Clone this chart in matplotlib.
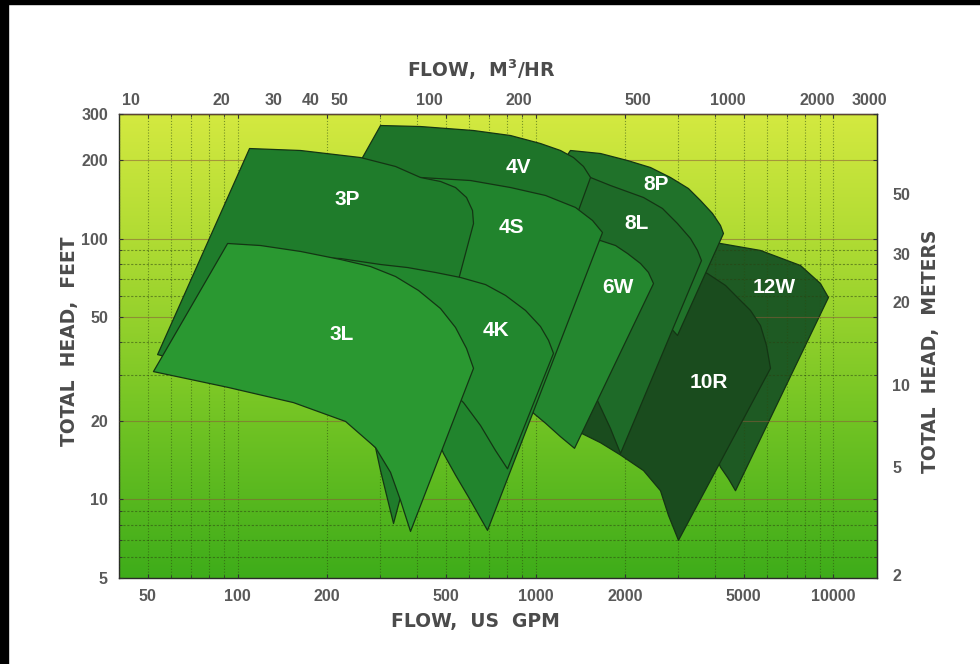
import numpy as np
import matplotlib
matplotlib.use("Agg")
import matplotlib.pyplot as plt
from matplotlib.patches import Polygon, Rectangle
from matplotlib.ticker import FixedLocator, NullLocator, NullFormatter, FuncFormatter

plt.rcParams['mathtext.default'] = 'regular'

# ---------------- data: pump coverage envelopes (flow US GPM, head feet) ----------------
flow_12W = [3720, 4176, 5689, 7750, 9045, 9621, 4690, 4443, 4176, 3579, 3443]
head_12W = [100.0, 95.7, 90.0, 78.8, 67.2, 59.4, 10.8, 12.0, 13.3, 20.1, 63.2]

flow_10R = [3312, 3778, 4341, 4764, 5266, 5689, 5960, 6147, 3019, 2795, 2627, 2304, 1929, 1652, 1362, 1261, 1652, 2627]
head_10R = [78.8, 73.4, 66.1, 59.4, 53.0, 46.4, 38.9, 31.8, 6.97, 8.68, 10.8, 12.9, 14.8, 16.5, 18.4, 23.9, 48.5, 69.0]

flow_8P = [1310, 1652, 2036, 2431, 2838, 3261, 3579, 3926, 4176, 4274, 2996, 2795, 2251, 1652, 1213]
head_8P = [217.4, 211.7, 199.0, 187.1, 171.3, 155.4, 139.8, 124.7, 112.2, 104.5, 42.5, 46.4, 63.2, 98.2, 190.5]

flow_8L = [1362, 1530, 1785, 2304, 2668, 2996, 3312, 3497, 3606, 1929, 1785, 1615, 1530, 1213, 1310]
head_8L = [179.0, 171.3, 159.6, 143.6, 130.3, 114.1, 100.0, 90.0, 82.3, 15.0, 18.7, 23.9, 28.6, 57.9, 139.8]

flow_6W = [1213, 1652, 1856, 2036, 2251, 2394, 2489, 1352, 1213, 1080, 985, 891, 1213]
head_6W = [94.0, 98.2, 94.0, 87.6, 80.2, 74.1, 67.2, 15.7, 17.4, 19.6, 21.4, 28.6, 82.3]

flow_4V = [301.9, 411.3, 619.3, 824.4, 1039, 1213, 1341, 1449, 1530, 1394, 1080, 518.5, 239.4, 262.7]
head_4V = [271.0, 268.6, 259.3, 248.1, 231.2, 217.4, 204.3, 188.8, 171.3, 128.0, 48.5, 48.5, 166.8, 204.3]

flow_4S = [352.4, 411.3, 605.1, 824.4, 1080, 1362, 1554, 1678, 690.1, 605.1, 538.9, 491.2, 411.3, 352.4]
head_4S = [139.8, 171.3, 166.8, 156.8, 146.2, 131.5, 117.2, 105.4, 7.61, 9.91, 12.4, 15.0, 23.9, 90.0]

flow_3P = [53.9, 109.7, 162.7, 258.7, 339.0, 411.3, 479.9, 538.9, 586.7, 614.6, 619.3, 333.8, 316.2, 301.9, 290.5, 221.6, 150.6, 75.1]
head_3P = [35.9, 221.2, 217.4, 204.3, 188.8, 171.3, 165.4, 156.8, 143.6, 128.0, 114.1, 8.09, 10.4, 12.9, 15.8, 21.9, 25.7, 32.6]

flow_4K = [162.7, 221.6, 301.9, 372.0, 461.7, 560.1, 679.6, 793.2, 925.7, 1039, 1106, 1149, 805.4, 734.0, 653.8, 573.3, 479.9, 352.4, 189.9]
head_4K = [85.3, 83.8, 79.5, 77.4, 74.1, 70.9, 66.6, 60.5, 53.0, 46.0, 40.7, 36.3, 13.1, 15.4, 19.2, 23.5, 28.6, 34.1, 48.5]

flow_3L = [52.2, 92.6, 119.4, 162.7, 221.6, 279.4, 339.0, 405.0, 479.9, 538.9, 586.7, 619.3, 380.6, 352.4, 326.1, 290.5, 230.4, 154.1, 92.6]
head_3L = [30.9, 95.7, 94.0, 89.2, 83.1, 78.1, 71.5, 63.2, 53.9, 45.6, 37.9, 31.8, 7.54, 9.91, 12.7, 15.8, 19.9, 23.5, 26.9]

# region labels
label_text = ['3P', '3L', '4V', '4S', '4K', '8P', '8L', '6W', '12W', '10R']
label_flow = [234, 223, 877, 831, 734, 2547, 2182, 1884, 6340, 3807]
label_head = [141, 42.9, 187, 110, 44.4, 161, 114, 64.9, 64.9, 28.1]

# axis ticks
gpm_ticks = [50, 100, 200, 500, 1000, 2000, 5000, 10000]
feet_ticks = [5, 10, 20, 50, 100, 200, 300]
m3h_ticks = [10, 20, 30, 40, 50, 100, 200, 500, 1000, 2000, 3000]
meter_ticks = [2, 5, 10, 20, 30, 50]

# ---------------- styling ----------------
shapes = [
    (flow_12W, head_12W, '#1e5a23'),
    (flow_10R, head_10R, '#1a4c1e'),
    (flow_8P, head_8P, '#20722a'),
    (flow_8L, head_8L, '#1e6a28'),
    (flow_6W, head_6W, '#24872f'),
    (flow_4V, head_4V, '#1e7429'),
    (flow_4S, head_4S, '#21842d'),
    (flow_3P, head_3P, '#1f7c2b'),
    (flow_4K, head_4K, '#22872e'),
    (flow_3L, head_3L, '#2a9831'),
]

W, H = 980, 664
fig = plt.figure(figsize=(W / 100, H / 100), dpi=100)
fig.patch.set_facecolor('white')
ax = fig.add_axes([119 / W, 1 - 578 / H, (877 - 119) / W, (578 - 114) / H])

# background gradient
ny = 256
tt = np.linspace(0, 1, ny)
stops_t = [0.0, 0.3, 0.62, 1.0]
stops_c = np.array([[212, 233, 64], [172, 218, 50], [120, 198, 37], [62, 172, 26]]) / 255.0
col = np.stack([np.interp(tt, stops_t, stops_c[:, k]) for k in range(3)], axis=-1)
img = np.repeat(col[:, None, :], 2, axis=1)
ax.imshow(img, extent=[0, 1, 0, 1], transform=ax.transAxes, aspect='auto',
          zorder=0, interpolation='bilinear')

ax.set_xscale('log')
ax.set_yscale('log')

for i, (fx, hy, c) in enumerate(shapes):
    poly = Polygon(np.column_stack([fx, hy]), closed=True, facecolor=c,
                   edgecolor='#143514', linewidth=0.9, zorder=2 + i, joinstyle='round')
    ax.add_patch(poly)

ax.set_xlim(40, 14000)
ax.set_ylim(5, 300)

# grid
ax.xaxis.set_major_locator(FixedLocator(gpm_ticks))
ax.xaxis.set_minor_locator(FixedLocator([v * 10 ** d for d in range(1, 5) for v in range(1, 10)]))
ax.yaxis.set_major_locator(FixedLocator(feet_ticks))
ax.yaxis.set_minor_locator(FixedLocator([v * 10 ** d for d in range(0, 3) for v in range(1, 10)]))
ax.xaxis.set_major_formatter(FuncFormatter(lambda v, p: f'{v:g}'))
ax.yaxis.set_major_formatter(FuncFormatter(lambda v, p: f'{v:g}'))
ax.xaxis.set_minor_formatter(NullFormatter())
ax.yaxis.set_minor_formatter(NullFormatter())

ax.grid(which='both', axis='x', color='#2b4a10', linestyle=(0, (1, 1.6)), linewidth=0.8, alpha=0.55, zorder=20)
ax.grid(which='major', axis='y', color='#8a5a3a', linestyle='-', linewidth=0.8, alpha=0.55, zorder=20)
ax.grid(which='minor', axis='y', color='#2b4010', linestyle=(0, (2, 1.5)), linewidth=0.8, alpha=0.5, zorder=20)
ax.set_axisbelow(False)

tick_font = dict(family=['Liberation Sans', 'DejaVu Sans'], weight='bold', size=11.5)
tick_color = '#595959'
ax.tick_params(which='both', direction='in', top=True, right=True, color='#333333')
ax.tick_params(which='major', length=3, width=0.8)
ax.tick_params(which='minor', length=2, width=0.6)
ax.tick_params(axis='x', which='major', pad=8, labelcolor=tick_color)
ax.tick_params(axis='y', which='major', pad=8, labelcolor=tick_color)
for lab in ax.get_xticklabels() + ax.get_yticklabels():
    lab.set_fontfamily(tick_font['family'])
    lab.set_fontweight('bold')
    lab.set_fontsize(tick_font['size'])

for s in ax.spines.values():
    s.set_color('#2a2a2a')
    s.set_linewidth(1.0)

# secondary axes
GPM_PER_M3H = 4.403
secx = ax.secondary_xaxis('top', functions=(lambda g: np.asarray(g) / GPM_PER_M3H,
                                            lambda m: np.asarray(m) * GPM_PER_M3H))
secx.xaxis.set_major_locator(FixedLocator(m3h_ticks))
secx.xaxis.set_minor_locator(NullLocator())
secx.xaxis.set_major_formatter(FuncFormatter(lambda v, p: f'{v:g}'))
secx.tick_params(length=0, pad=4, labelcolor=tick_color)
for lab in secx.get_xticklabels():
    lab.set_fontfamily(tick_font['family']); lab.set_fontweight('bold'); lab.set_fontsize(tick_font['size'])

# metres scale as printed on the chart (fitted to the printed tick positions)
M_K, M_P = 0.42, 0.956
def ft2m(ft):
    ft = np.clip(np.asarray(ft, dtype=float), 1e-6, None)
    return M_K * ft ** M_P
def m2ft(m):
    m = np.clip(np.asarray(m, dtype=float), 1e-6, None)
    return (m / M_K) ** (1 / M_P)
secy = ax.secondary_yaxis('right', functions=(ft2m, m2ft))
secy.yaxis.set_major_locator(FixedLocator(meter_ticks))
secy.yaxis.set_minor_locator(NullLocator())
secy.yaxis.set_major_formatter(FuncFormatter(lambda v, p: f'{v:g}'))
secy.tick_params(length=0, pad=11, labelcolor=tick_color)
for lab in secy.get_yticklabels():
    lab.set_fontfamily(tick_font['family']); lab.set_fontweight('bold'); lab.set_fontsize(tick_font['size'])

# region labels
for t, fx, hy in zip(label_text, label_flow, label_head):
    ax.text(fx, hy, t, color='white', ha='center', va='center', zorder=30,
            family=['Liberation Sans', 'DejaVu Sans'], weight='bold', fontsize=15)

# axis titles
lab_kw = dict(family='DejaVu Sans', weight='bold', fontsize=13.5, color='#4b4b4b',
              ha='center', va='center')
fig.text(475 / W, 1 - 621 / H, 'FLOW,  US  GPM', **lab_kw)
fig.text(481 / W, 1 - 70 / H, 'FLOW,  M$^{3}$/HR', **lab_kw)
fig.text(70 / W, 1 - 341 / H, 'TOTAL  HEAD,  FEET', rotation=90, **lab_kw)
fig.text(930 / W, 1 - 351 / H, 'TOTAL  HEAD,  METERS', rotation=90, **lab_kw)

# black frame remnants of the scanned picture
fig.add_artist(Rectangle((0, 1 - 4 / H), 1, 4 / H, transform=fig.transFigure, color='black', zorder=50))
fig.add_artist(Rectangle((0, 0), 8 / W, 1, transform=fig.transFigure, color='black', zorder=50))

fig.savefig('out.png', dpi=100, facecolor='white')
